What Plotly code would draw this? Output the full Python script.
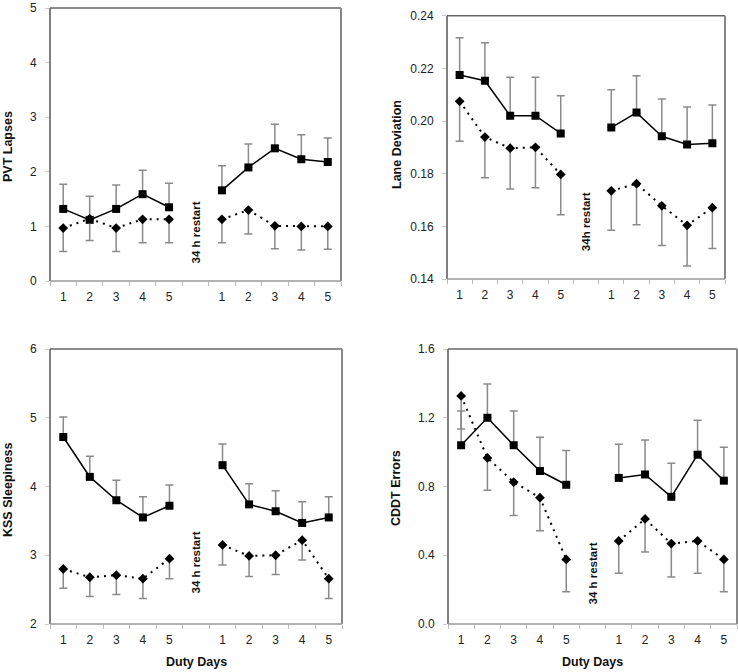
import plotly.graph_objects as go

W, H = 738, 672

day_labels = ["1", "2", "3", "4", "5", "", "1", "2", "3", "4", "5"]

# PVT Lapses
pvt_sq_w1 = [1.32, 1.12, 1.32, 1.59, 1.35]
pvt_sq_w2 = [1.66, 2.08, 2.43, 2.23, 2.18]
pvt_sq_err_w1 = [0.45, 0.43, 0.44, 0.44, 0.44]
pvt_sq_err_w2 = [0.45, 0.43, 0.44, 0.45, 0.44]
pvt_di_w1 = [0.97, 1.14, 0.97, 1.13, 1.13]
pvt_di_w2 = [1.13, 1.30, 1.01, 1.00, 1.00]
pvt_di_err_w1 = [0.43, 0.40, 0.43, 0.43, 0.43]
pvt_di_err_w2 = [0.43, 0.44, 0.42, 0.43, 0.42]

# Lane Deviation
lane_sq_w1 = [0.2175, 0.2153, 0.2020, 0.2020, 0.1953]
lane_sq_w2 = [0.1975, 0.2032, 0.1942, 0.1911, 0.1916]
lane_sq_err_w1 = [0.0141, 0.0144, 0.0146, 0.0146, 0.0143]
lane_sq_err_w2 = [0.0144, 0.0140, 0.0142, 0.0142, 0.0145]
lane_di_w1 = [0.2075, 0.1939, 0.1897, 0.1900, 0.1797]
lane_di_w2 = [0.1735, 0.1762, 0.1678, 0.1604, 0.1671]
lane_di_err_w1 = [0.0152, 0.0154, 0.0155, 0.0153, 0.0153]
lane_di_err_w2 = [0.0150, 0.0156, 0.0151, 0.0155, 0.0155]

# KSS Sleepiness
kss_sq_w1 = [4.72, 4.14, 3.80, 3.55, 3.72]
kss_sq_w2 = [4.31, 3.74, 3.64, 3.47, 3.55]
kss_sq_err_w1 = [0.29, 0.30, 0.29, 0.30, 0.30]
kss_sq_err_w2 = [0.31, 0.30, 0.30, 0.31, 0.30]
kss_di_w1 = [2.80, 2.68, 2.71, 2.66, 2.95]
kss_di_w2 = [3.15, 2.99, 3.00, 3.22, 2.66]
kss_di_err_w1 = [0.28, 0.28, 0.28, 0.29, 0.29]
kss_di_err_w2 = [0.29, 0.30, 0.28, 0.29, 0.29]

# CDDT Errors
cddt_sq_w1 = [1.04, 1.20, 1.04, 0.89, 0.81]
cddt_sq_w2 = [0.85, 0.87, 0.74, 0.985, 0.834]
cddt_sq_err_w1 = [0.20, 0.196, 0.20, 0.196, 0.20]
cddt_sq_err_w2 = [0.196, 0.20, 0.196, 0.20, 0.194]
cddt_di_w1 = [1.327, 0.966, 0.826, 0.735, 0.376]
cddt_di_w2 = [0.483, 0.611, 0.468, 0.483, 0.376]
cddt_di_err_w1 = [0.193, 0.188, 0.194, 0.192, 0.188]
cddt_di_err_w2 = [0.188, 0.192, 0.195, 0.188, 0.188]

panels = [
    dict(title="PVT Lapses", restart="34 h restart", restart_y=0.88,
         sq=(pvt_sq_w1, pvt_sq_w2), sqe=(pvt_sq_err_w1, pvt_sq_err_w2),
         di=(pvt_di_w1, pvt_di_w2), die=(pvt_di_err_w1, pvt_di_err_w2),
         yrange=[0, 5], dtick=1, fmt="d",
         box=(50, 341, 8, 281), title_x=8, title_y=147, duty=False),
    dict(title="Lane Deviation", restart="34h restart", restart_y=0.1616,
         sq=(lane_sq_w1, lane_sq_w2), sqe=(lane_sq_err_w1, lane_sq_err_w2),
         di=(lane_di_w1, lane_di_w2), die=(lane_di_err_w1, lane_di_err_w2),
         yrange=[0.14, 0.24], dtick=0.02, fmt=".2f",
         box=(447, 725, 15.7, 279), title_x=397, title_y=145, duty=False),
    dict(title="KSS Sleepiness", restart="34 h restart", restart_y=2.895,
         sq=(kss_sq_w1, kss_sq_w2), sqe=(kss_sq_err_w1, kss_sq_err_w2),
         di=(kss_di_w1, kss_di_w2), die=(kss_di_err_w1, kss_di_err_w2),
         yrange=[2, 6], dtick=1, fmt="d",
         box=(50, 342, 349, 624), title_x=8, title_y=490, duty=True),
    dict(title="CDDT Errors", restart="34 h restart", restart_y=0.291,
         sq=(cddt_sq_w1, cddt_sq_w2), sqe=(cddt_sq_err_w1, cddt_sq_err_w2),
         di=(cddt_di_w1, cddt_di_w2), die=(cddt_di_err_w1, cddt_di_err_w2),
         yrange=[0, 1.6], dtick=0.4, fmt=".1f",
         box=(448, 737, 349, 624), title_x=396, title_y=488, duty=True),
]

FONT = "Liberation Sans, Arial, sans-serif"
NARROW = "Liberation Sans Narrow, Arial Narrow, Liberation Sans, Arial, sans-serif"
fig = go.Figure()
xs = list(range(11))
annotations = []
shapes = []
layout = {}

for i, p in enumerate(panels):
    n = "" if i == 0 else str(i + 1)
    xa, ya = "x" + n, "y" + n
    x0, x1, y0, y1 = p["box"]
    sq = p["sq"][0] + [None] + p["sq"][1]
    sqe = p["sqe"][0] + [0] + p["sqe"][1]
    di = p["di"][0] + [None] + p["di"][1]
    die = p["die"][0] + [0] + p["die"][1]
    zeros = [0] * 11
    fig.add_trace(go.Scatter(
        x=xs, y=sq, xaxis=xa, yaxis=ya, mode="lines+markers", showlegend=False,
        line=dict(color="black", width=1.5),
        marker=dict(symbol="square", size=8, color="black"),
        error_y=dict(type="data", symmetric=False, array=sqe, arrayminus=zeros,
                     color="#8a8a8a", thickness=1.5, width=4)))
    fig.add_trace(go.Scatter(
        x=xs, y=di, xaxis=xa, yaxis=ya, mode="lines+markers", showlegend=False,
        line=dict(color="black", width=2, dash="2px,5px"),
        marker=dict(symbol="diamond", size=7.5, color="black"),
        error_y=dict(type="data", symmetric=False, array=zeros, arrayminus=die,
                     color="#8a8a8a", thickness=1.5, width=4)))

    layout["xaxis" + n] = dict(
        domain=[x0 / W, x1 / W], anchor=ya, range=[-0.5, 10.5],
        tickmode="array", tickvals=xs, ticktext=day_labels, ticks="",
        showgrid=False, zeroline=False, showline=False,
        tickfont=dict(family=FONT, size=12, color="#222"),
        ticklabelstandoff=7, ticklabeloverflow="allow",
        minor=dict(tickmode="linear", tick0=-0.5, dtick=1, ticks="outside",
                   ticklen=4, tickcolor="#bbbbbb", tickwidth=1, showgrid=False),
        fixedrange=True)
    layout["yaxis" + n] = dict(
        domain=[1 - y1 / H, 1 - y0 / H], anchor=xa, range=p["yrange"],
        tickmode="linear", tick0=p["yrange"][0], dtick=p["dtick"],
        tickformat=p["fmt"], ticks="outside", ticklen=4, tickcolor="#cccccc",
        showgrid=False, zeroline=False, showline=False,
        tickfont=dict(family=FONT, size=12, color="#222"),
        ticklabelstandoff=6, ticklabeloverflow="allow", fixedrange=True)

    dx = xa + " domain"
    dy = ya + " domain"
    shapes += [
        dict(type="line", xref=dx, yref=dy, x0=0, x1=0, y0=0, y1=1,
             line=dict(color="#555", width=1.5)),
        dict(type="line", xref=dx, yref=dy, x0=0, x1=1, y0=1, y1=1,
             line=dict(color="#666", width=1.5)),
        dict(type="line", xref=dx, yref=dy, x0=1, x1=1, y0=0, y1=1,
             line=dict(color="#888", width=2)),
        dict(type="line", xref=dx, yref=dy, x0=0, x1=1, y0=0, y1=0,
             line=dict(color="#999", width=1.5)),
    ]

    annotations.append(dict(
        x=5, y=p["restart_y"], xref=xa, yref=ya, text="<b>" + p["restart"] + "</b>",
        textangle=-90, showarrow=False, xanchor="center", yanchor="middle",
        font=dict(family=NARROW, size=11.5, color="#111")))
    annotations.append(dict(
        x=p["title_x"] / W, y=1 - p["title_y"] / H, xref="paper", yref="paper",
        text="<b>" + p["title"] + "</b>", textangle=-90, showarrow=False,
        xanchor="center", yanchor="middle",
        font=dict(family=FONT, size=12.5, color="#111")))
    if p["duty"]:
        annotations.append(dict(
            x=(x0 + x1) / 2 / W, y=1 - 662 / H, xref="paper", yref="paper",
            text="<b>Duty Days</b>", showarrow=False,
            xanchor="center", yanchor="middle",
            font=dict(family=FONT, size=12.5, color="#111")))

fig.update_layout(
    width=W, height=H, margin=dict(l=0, r=0, t=0, b=0, autoexpand=False),
    paper_bgcolor="white", plot_bgcolor="white",
    annotations=annotations, shapes=shapes, **layout)

fig.write_html("out.html", config={"displayModeBar": False},
               post_script="document.body.style.margin='0';document.body.style.overflow='hidden';")
